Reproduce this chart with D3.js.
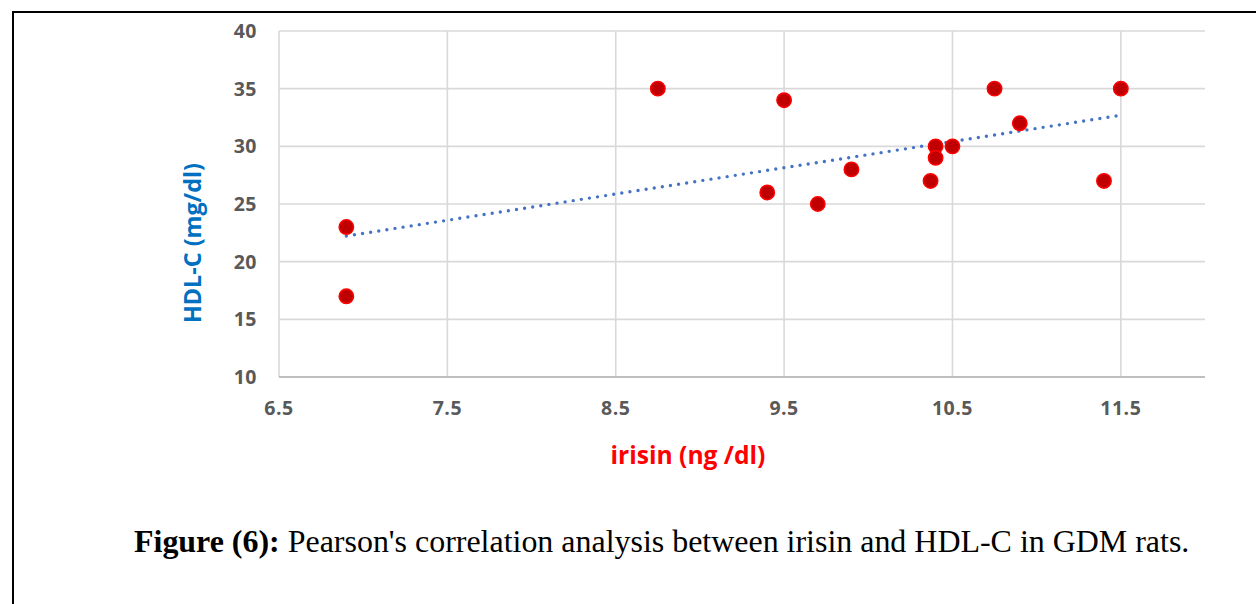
<!DOCTYPE html>
<html>
<head>
<meta charset="utf-8">
<script src="https://cdn.jsdelivr.net/npm/d3@7"></script>
<style>
  html, body { margin: 0; padding: 0; background: #fff; }
  svg { display: block; }
</style>
</head>
<body>
<svg id="chart" width="1256" height="604"></svg>
<script>
// ---- data ----
const irisin = [6.9, 6.9, 8.75, 9.5, 9.4, 9.7, 9.9, 10.37, 10.4, 10.4, 10.5, 10.75, 10.9, 11.4, 11.5];
const hdl    = [23, 17, 35, 34, 26, 25, 28, 27, 30, 29, 30, 35, 32, 27, 35];
const xTicks = [6.5, 7.5, 8.5, 9.5, 10.5, 11.5];
const yTicks = [10, 15, 20, 25, 30, 35, 40];
const xTitle = "irisin (ng /dl)";
const yTitle = "HDL-C (mg/dl)";
const captionBold = "Figure (6):";
const captionText = " Pearson's correlation analysis between irisin and HDL-C in GDM rats.";

const svg = d3.select("#chart");

// outer border
svg.append("rect")
  .attr("x", 13).attr("y", 12)
  .attr("width", 1300).attr("height", 700)
  .attr("fill", "none").attr("stroke", "#000").attr("stroke-width", 2);

const x = d3.scaleLinear().domain([6.5, 12]).range([279, 1205]);
const y = d3.scaleLinear().domain([10, 40]).range([377, 31]);

// gridlines
const g = svg.append("g");
g.selectAll("line.hg").data(yTicks.filter(t => t !== 10)).join("line")
  .attr("x1", x(6.5)).attr("x2", x(12))
  .attr("y1", d => y(d)).attr("y2", d => y(d))
  .attr("stroke", "#d9d9d9").attr("stroke-width", 1.6);
g.selectAll("line.vg").data(xTicks).join("line")
  .attr("x1", d => x(d)).attr("x2", d => x(d))
  .attr("y1", y(10)).attr("y2", y(40))
  .attr("stroke", "#d9d9d9").attr("stroke-width", 1.6);
// bottom axis line
g.append("line")
  .attr("x1", x(6.5)).attr("x2", x(12))
  .attr("y1", y(10)).attr("y2", y(10))
  .attr("stroke", "#bfbfbf").attr("stroke-width", 1.8);

// tick labels
const tickFont = "'Open Sans', sans-serif";
svg.append("g").selectAll("text").data(yTicks).join("text")
  .attr("x", 257).attr("y", d => y(d))
  .attr("dy", "0.36em")
  .attr("text-anchor", "end")
  .attr("font-family", tickFont).attr("font-weight", "bold").attr("font-size", 19.5)
  .attr("letter-spacing", 0.5)
  .attr("fill", "#595959")
  .text(d => d);
svg.append("g").selectAll("text").data(xTicks).join("text")
  .attr("x", d => x(d)).attr("y", 408)
  .attr("dy", "0.36em")
  .attr("text-anchor", "middle")
  .attr("font-family", tickFont).attr("font-weight", "bold").attr("font-size", 19.5)
  .attr("letter-spacing", 0.5)
  .attr("fill", "#595959")
  .text(d => d3.format(".1f")(d));

// axis titles
const xt = svg.append("text")
  .attr("x", 688).attr("y", 455).attr("dy", "0.36em")
  .attr("text-anchor", "middle")
  .attr("font-family", "'Open Sans', sans-serif").attr("font-weight", "bold").attr("font-size", 21)
  .attr("fill", "#ff0000").text(xTitle);
const yt = svg.append("text")
  .attr("transform", "translate(193,243) rotate(-90)")
  .attr("dy", "0.36em")
  .attr("text-anchor", "middle")
  .attr("font-family", "'Open Sans', sans-serif").attr("font-weight", "bold").attr("font-size", 21)
  .attr("fill", "#0070c0").text(yTitle);
// fit widths
function fit(sel, target) {
  const w = sel.node().getComputedTextLength();
  const fs = +sel.attr("font-size");
  sel.attr("font-size", fs * target / w);
}
fit(xt, 155);
fit(yt, 160);

// trendline (least squares)
const n = irisin.length;
const mx = d3.mean(irisin), my = d3.mean(hdl);
let sxy = 0, sxx = 0;
for (let i = 0; i < n; i++) { sxy += (irisin[i]-mx)*(hdl[i]-my); sxx += (irisin[i]-mx)**2; }
const slope = sxy / sxx, icpt = my - slope * mx;
const [xmin, xmax] = d3.extent(irisin);
const trend = [[xmin, icpt + slope*xmin], [xmax, icpt + slope*xmax]];
svg.append("path")
  .attr("d", d3.line().x(d => x(d[0])).y(d => y(d[1]))(trend))
  .attr("fill", "none").attr("stroke", "#4472c4")
  .attr("stroke-width", 3.4).attr("stroke-linecap", "round")
  .attr("stroke-dasharray", "0 8.2");

// points
svg.append("g").selectAll("circle").data(irisin.map((v, i) => [v, hdl[i]])).join("circle")
  .attr("cx", d => x(d[0])).attr("cy", d => y(d[1]))
  .attr("r", 7.2)
  .attr("fill", "#c00000").attr("stroke", "#ff0000").attr("stroke-width", 1.5);

// caption
const cap = svg.append("text")
  .attr("x", 134).attr("y", 552)
  .attr("font-family", "'Liberation Serif', 'Times New Roman', serif")
  .attr("font-size", 30).attr("fill", "#000");
cap.append("tspan").attr("font-weight", "bold").text(captionBold);
cap.append("tspan").text(captionText);
fit(cap, 1056);
</script>
</body>
</html>
